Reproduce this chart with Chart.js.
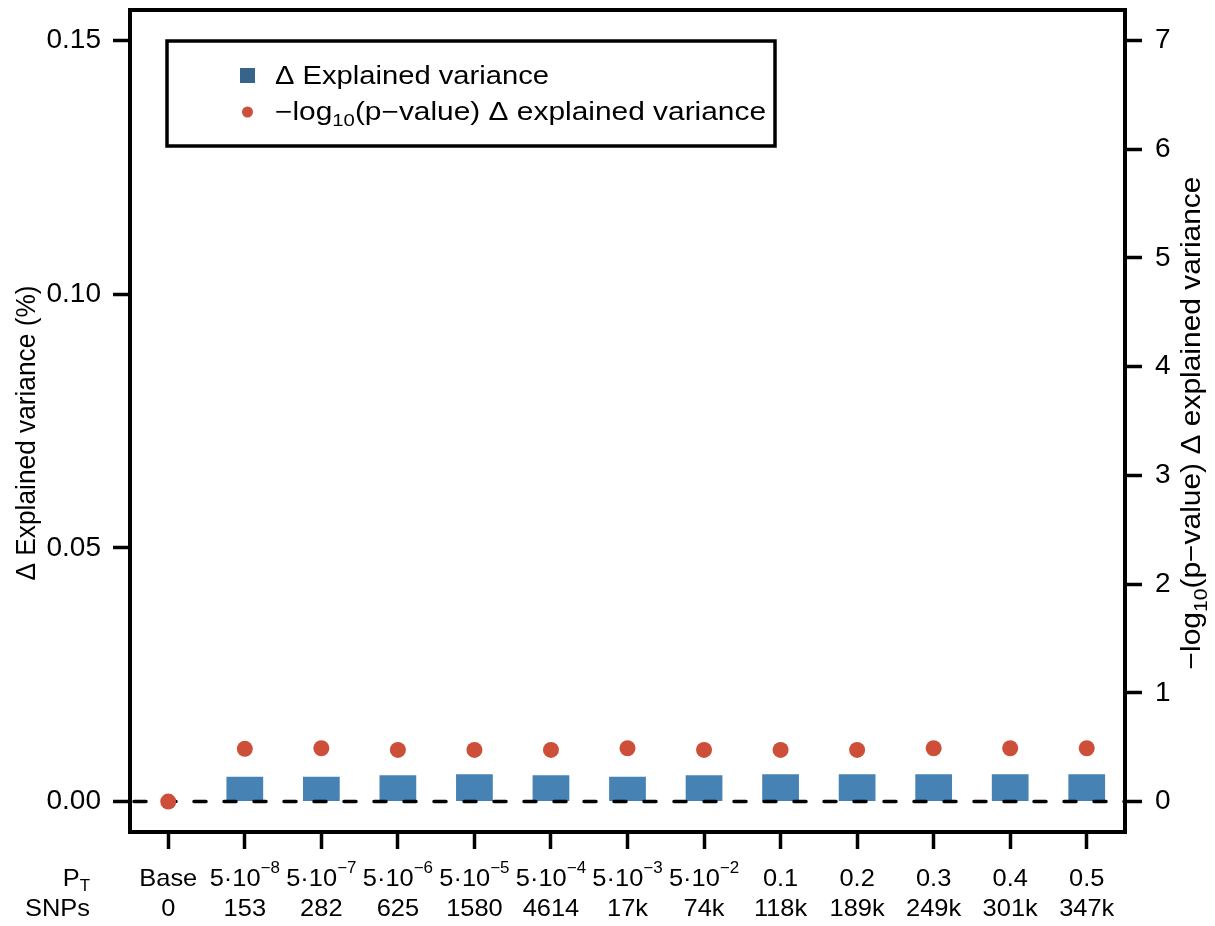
<!DOCTYPE html>
<html><head><meta charset="utf-8">
<script src="https://cdn.jsdelivr.net/npm/chart.js@4/dist/chart.umd.min.js"></script>
<style>html,body{margin:0;padding:0;background:#fff;} #wrap{width:1215px;height:926px;}</style>
</head><body><div id="wrap"><canvas id="c" width="1215" height="926"></canvas></div>
<script>
// ---- data ----
const categories = ['Base','5e-8','5e-7','5e-6','5e-5','5e-4','5e-3','5e-2','0.1','0.2','0.3','0.4','0.5'];
const ptMain = ['Base','5·10','5·10','5·10','5·10','5·10','5·10','5·10','0.1','0.2','0.3','0.4','0.5'];
const ptExp = ['','−8','−7','−6','−5','−4','−3','−2','','','','',''];
const snpCounts = ['0','153','282','625','1580','4614','17k','74k','118k','189k','249k','301k','347k'];
const deltaExplainedVariance = [0, 0.0049, 0.0049, 0.0052, 0.0054, 0.0052, 0.0049, 0.0052, 0.0054, 0.0054, 0.0054, 0.0054, 0.0054];
const negLog10P = [0, 0.485, 0.49, 0.475, 0.475, 0.475, 0.49, 0.475, 0.475, 0.475, 0.49, 0.49, 0.49];
const leftTicks = [0, 0.05, 0.10, 0.15];
const rightTicks = [0, 1, 2, 3, 4, 5, 6, 7];

const FONT = "'Liberation Sans', Arial, Helvetica, sans-serif";
const BAR_COL = '#4682B4';
const PT_COL = '#CD4F39';

function drawParts(ctx, parts, x, y, align, sx, target) {
  let total = 0;
  parts.forEach(p => { ctx.font = p.size + 'px ' + FONT; p.w = ctx.measureText(p.t).width; total += p.w; });
  if (target) sx = target / total;
  const tw = total * sx;
  let cx = align === 'center' ? x - tw / 2 : (align === 'right' ? x - tw : x);
  ctx.textAlign = 'left';
  ctx.textBaseline = 'alphabetic';
  parts.forEach(p => {
    ctx.save();
    ctx.translate(cx, y + (p.dy || 0));
    ctx.scale(sx, 1);
    ctx.font = p.size + 'px ' + FONT;
    ctx.fillText(p.t, 0, 0);
    ctx.restore();
    cx += p.w * sx;
  });
}

const decor = {
  id: 'decor',
  afterDatasetDraw(chart, args) {
    if (args.index !== 0) return;
    const ctx = chart.ctx, a = chart.chartArea;
    const y0 = chart.scales.y.getPixelForValue(0);
    ctx.save();
    ctx.strokeStyle = '#000';
    ctx.lineWidth = 3.5;
    ctx.lineCap = 'round';
    ctx.setLineDash([12, 18]);
    ctx.lineDashOffset = -4;
    ctx.beginPath();
    ctx.moveTo(a.left, y0);
    ctx.lineTo(a.right, y0);
    ctx.stroke();
    ctx.restore();
  },
  afterDraw(chart) {
    const ctx = chart.ctx, a = chart.chartArea;
    ctx.save();
    // plot box
    ctx.strokeStyle = '#000';
    ctx.lineWidth = 4;
    ctx.strokeRect(a.left, a.top, a.right - a.left, a.bottom - a.top);
    ctx.fillStyle = '#000';
    // x labels
    const xs = chart.scales.x;
    categories.forEach((c, i) => {
      const cx = xs.getPixelForValue(i);
      const parts = [{t: ptMain[i], size: 24}];
      if (ptExp[i]) parts.push({t: ptExp[i], size: 16, dy: -13});
      drawParts(ctx, parts, cx, 886, 'center', 1.06);
      drawParts(ctx, [{t: snpCounts[i], size: 24}], cx, 916, 'center', 1.06);
    });
    drawParts(ctx, [{t: 'P', size: 24}, {t: 'T', size: 16, dy: 5}], 90, 886, 'right', 1.06);
    drawParts(ctx, [{t: 'SNPs', size: 24}], 90, 916, 'right', 1.06);
    // axis titles
    ctx.save();
    ctx.translate(35, 433);
    ctx.rotate(-Math.PI / 2);
    drawParts(ctx, [{t: 'Δ Explained variance (%)', size: 27}], 0, 0, 'center', 1, 295);
    ctx.restore();
    ctx.save();
    ctx.translate(1200, 423);
    ctx.rotate(-Math.PI / 2);
    drawParts(ctx, [{t: '−log', size: 27}, {t: '10', size: 19, dy: 7}, {t: '(p−value) Δ explained variance', size: 27}], 0, 0, 'center', 1, 493);
    ctx.restore();
    // legend
    ctx.lineWidth = 3.5;
    ctx.strokeRect(167, 41, 608, 105);
    ctx.fillStyle = '#36648B';
    ctx.fillRect(240, 68, 15, 15);
    ctx.fillStyle = PT_COL;
    ctx.beginPath();
    ctx.arc(247.5, 112, 5.5, 0, Math.PI * 2);
    ctx.fill();
    ctx.fillStyle = '#000';
    drawParts(ctx, [{t: 'Δ Explained variance', size: 25}], 275, 84, 'left', 1, 274);
    drawParts(ctx, [{t: '−log', size: 25}, {t: '10', size: 17, dy: 6}, {t: '(p−value) Δ explained variance', size: 25}], 275, 120, 'left', 1, 491);
    ctx.restore();
  }
};

new Chart(document.getElementById('c'), {
  data: {
    labels: categories,
    datasets: [
      {
        type: 'bar',
        label: 'Δ Explained variance',
        data: deltaExplainedVariance,
        backgroundColor: BAR_COL,
        borderWidth: 0,
        barPercentage: 0.48,
        categoryPercentage: 1,
        yAxisID: 'y',
        order: 1
      },
      {
        type: 'line',
        label: '−log10(p−value) Δ explained variance',
        data: negLog10P,
        showLine: false,
        pointRadius: 8,
        pointBackgroundColor: PT_COL,
        pointBorderWidth: 0,
        yAxisID: 'y2',
        order: 0
      }
    ]
  },
  options: {
    responsive: false,
    devicePixelRatio: 1,
    animation: false,
    layout: {padding: {top: 10, left: 0, right: 0, bottom: 0}},
    plugins: {legend: {display: false}, tooltip: {enabled: false}},
    scales: {
      x: {
        type: 'category',
        offset: true,
        grid: {offset: false, drawOnChartArea: false, drawTicks: true, tickLength: 17, tickWidth: 3.5, tickColor: '#000'},
        border: {display: false},
        ticks: {display: false},
        afterFit: s => { s.height = 94; s.paddingLeft = 0; s.paddingRight = 0; }
      },
      y: {
        type: 'linear',
        position: 'left',
        min: -0.006,
        max: 0.156,
        afterBuildTicks: s => { s.ticks = leftTicks.map(v => ({value: v})); },
        grid: {drawOnChartArea: false, drawTicks: true, tickLength: 17, tickWidth: 3.5, tickColor: '#000'},
        border: {display: false},
        ticks: {padding: 12, color: '#000', font: {family: FONT, size: 28}, callback: v => Number(v).toFixed(2)},
        afterFit: s => { s.width = 130; s.paddingTop = 0; s.paddingBottom = 0; }
      },
      y2: {
        type: 'linear',
        position: 'right',
        min: -0.28,
        max: 7.28,
        afterBuildTicks: s => { s.ticks = rightTicks.map(v => ({value: v})); },
        grid: {drawOnChartArea: false, drawTicks: true, tickLength: 17, tickWidth: 3.5, tickColor: '#000'},
        border: {display: false},
        ticks: {padding: 13, color: '#000', font: {family: FONT, size: 28}, callback: v => String(v)},
        afterFit: s => { s.width = 90; s.paddingTop = 0; s.paddingBottom = 0; }
      }
    }
  },
  plugins: [decor]
});
</script>
</body></html>
